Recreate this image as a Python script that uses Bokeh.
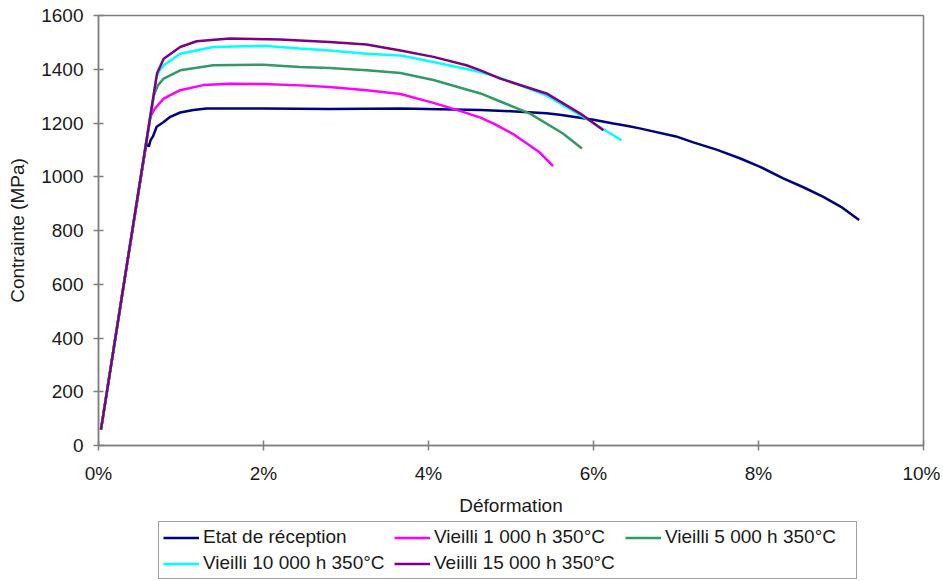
from bokeh.plotting import figure
from bokeh.models import Legend, LegendItem, FixedTicker, Range1d
from bokeh.layouts import column
from bokeh.embed import file_html
from bokeh.resources import INLINE

# ---------------- data (strain in %, stress in MPa) ----------------
series_names = [
    "Etat de réception",
    "Vieilli 1 000 h 350°C",
    "Vieilli 5 000 h 350°C",
    "Vieilli 10 000 h 350°C",
    "Veiilli 15 000 h 350°C",
]
series_colors = ["#000080", "#FF00FF", "#339966", "#00FFFF", "#800080"]

x_etat = [0.03, 0.30, 0.58, 0.61, 0.63, 0.66, 0.705, 0.79, 0.87, 0.99, 1.15, 1.31, 1.60,
          2.00, 2.80, 3.66, 4.30, 4.63, 5.00, 5.43, 5.59, 6.00, 6.24, 6.40, 6.56, 7.00,
          7.21, 7.50, 7.78, 8.02, 8.30, 8.55, 8.78, 9.00, 9.22]
y_etat = [59, 587, 1125, 1112, 1135, 1150, 1186, 1204, 1223, 1239, 1248, 1254, 1254,
          1254, 1252, 1254, 1250, 1248, 1244, 1236, 1231, 1212, 1198, 1190, 1180, 1150,
          1128, 1100, 1068, 1037, 994, 960, 926, 888, 839]

x_1000 = [0.03, 0.30, 0.63, 0.685, 0.79, 0.99, 1.27, 1.59, 2.00, 2.44, 2.80, 3.25, 3.66,
          4.06, 4.38, 4.63, 4.79, 5.03, 5.35, 5.51]
y_1000 = [59, 587, 1225, 1254, 1291, 1322, 1341, 1346, 1345, 1340, 1334, 1322, 1308,
          1275, 1245, 1220, 1198, 1158, 1090, 1040]

x_5000 = [0.03, 0.30, 0.67, 0.72, 0.79, 0.99, 1.39, 2.00, 2.44, 2.80, 3.25, 3.66, 4.06,
          4.63, 4.87, 5.23, 5.63, 5.86]
y_5000 = [59, 587, 1302, 1340, 1365, 1396, 1415, 1417, 1408, 1405, 1396, 1386, 1360,
          1310, 1280, 1235, 1161, 1105]

x_10000 = [0.03, 0.30, 0.70, 0.74, 0.79, 0.99, 1.39, 2.00, 2.44, 2.80, 3.25, 3.66, 4.06,
           4.63, 4.87, 5.43, 5.84, 6.34]
y_10000 = [59, 587, 1368, 1395, 1415, 1458, 1483, 1487, 1477, 1470, 1458, 1451, 1427,
           1390, 1368, 1303, 1229, 1136]

x_15000 = [0.03, 0.30, 0.71, 0.79, 0.99, 1.19, 1.59, 2.20, 2.44, 2.80, 3.25, 3.66, 4.06,
           4.46, 4.63, 4.87, 5.43, 5.84, 6.12]
y_15000 = [59, 587, 1385, 1439, 1483, 1504, 1514, 1511, 1507, 1501, 1492, 1470, 1446,
           1415, 1396, 1365, 1310, 1235, 1173]

series_x = [x_etat, x_1000, x_5000, x_10000, x_15000]
series_y = [y_etat, y_1000, y_5000, y_10000, y_15000]

x_ticks = [0, 2, 4, 6, 8, 10]
x_tick_labels = ["0%", "2%", "4%", "6%", "8%", "10%"]
y_ticks = [0, 200, 400, 600, 800, 1000, 1200, 1400, 1600]

FONT = "Liberation Sans"
TXT = "#1a1a1a"
AX = "#808080"
W = 940

p = figure(width=W, height=518, output_backend="svg", toolbar_location=None,
           x_range=Range1d(0, 10), y_range=Range1d(0, 1600),
           min_border_left=98, min_border_right=17, min_border_top=15, min_border_bottom=72)
p.grid.visible = False
p.outline_line_color = AX
p.outline_line_width = 1.5
p.background_fill_color = "white"
p.border_fill_color = "white"

for ax in (p.xaxis[0], p.yaxis[0]):
    ax.axis_line_color = AX
    ax.axis_line_width = 1.5
    ax.major_tick_line_color = AX
    ax.major_tick_line_width = 1.5
    ax.major_tick_in = 5
    ax.major_tick_out = 5
    ax.minor_tick_line_color = None
    ax.major_label_text_font = FONT
    ax.major_label_text_font_size = "19px"
    ax.major_label_text_color = TXT
    ax.axis_label_text_font = FONT
    ax.axis_label_text_font_size = "19px"
    ax.axis_label_text_font_style = "normal"
    ax.axis_label_text_color = TXT

p.xaxis.ticker = FixedTicker(ticks=x_ticks)
p.xaxis.major_label_overrides = {t: l for t, l in zip(x_ticks, x_tick_labels)}
p.xaxis.axis_label = "Déformation"
p.xaxis.major_label_standoff = 12
p.xaxis.axis_label_standoff = 8

p.yaxis.ticker = FixedTicker(ticks=y_ticks)
p.yaxis.axis_label = "Contrainte (MPa)"
p.yaxis.major_label_standoff = 10
p.yaxis.axis_label_standoff = 10

for col, xs, ys in zip(series_colors, series_x, series_y):
    p.line(xs, ys, line_color=col, line_width=2.5)

# ---------------- legend strip below the chart ----------------
# (its frame is aligned with the chart's frame by the column layout; the series
#  drawn here fall outside its 0..1 ranges, so only the legend shows)
LH = 62
pl = figure(width=W, height=LH, output_backend="svg", toolbar_location=None,
            x_range=Range1d(0, 1), y_range=Range1d(0, 1),
            min_border_left=0, min_border_right=0, min_border_top=0, min_border_bottom=0)
pl.axis.visible = False
pl.grid.visible = False
pl.outline_line_color = None
pl.background_fill_color = "white"
pl.border_fill_color = "white"

items = []
for name, col, xs, ys in zip(series_names, series_colors, series_x, series_y):
    r = pl.line(xs, ys, line_color=col, line_width=2.5)
    items.append(LegendItem(label=name, renderers=[r]))

legend = Legend(items=items, orientation="horizontal", ncols=3, location=(60, 1),
                label_text_font=FONT, label_text_font_size="19px", label_text_color=TXT,
                glyph_width=36, glyph_height=19, label_height=19, label_standoff=4,
                label_width=187, spacing=4, padding=4, margin=0,
                border_line_color="#404040", border_line_width=1.2,
                background_fill_color="white", background_fill_alpha=1.0)
pl.add_layout(legend, "center")

layout = column(p, pl, spacing=0)
open("out.html", "w").write(file_html(layout, INLINE))
